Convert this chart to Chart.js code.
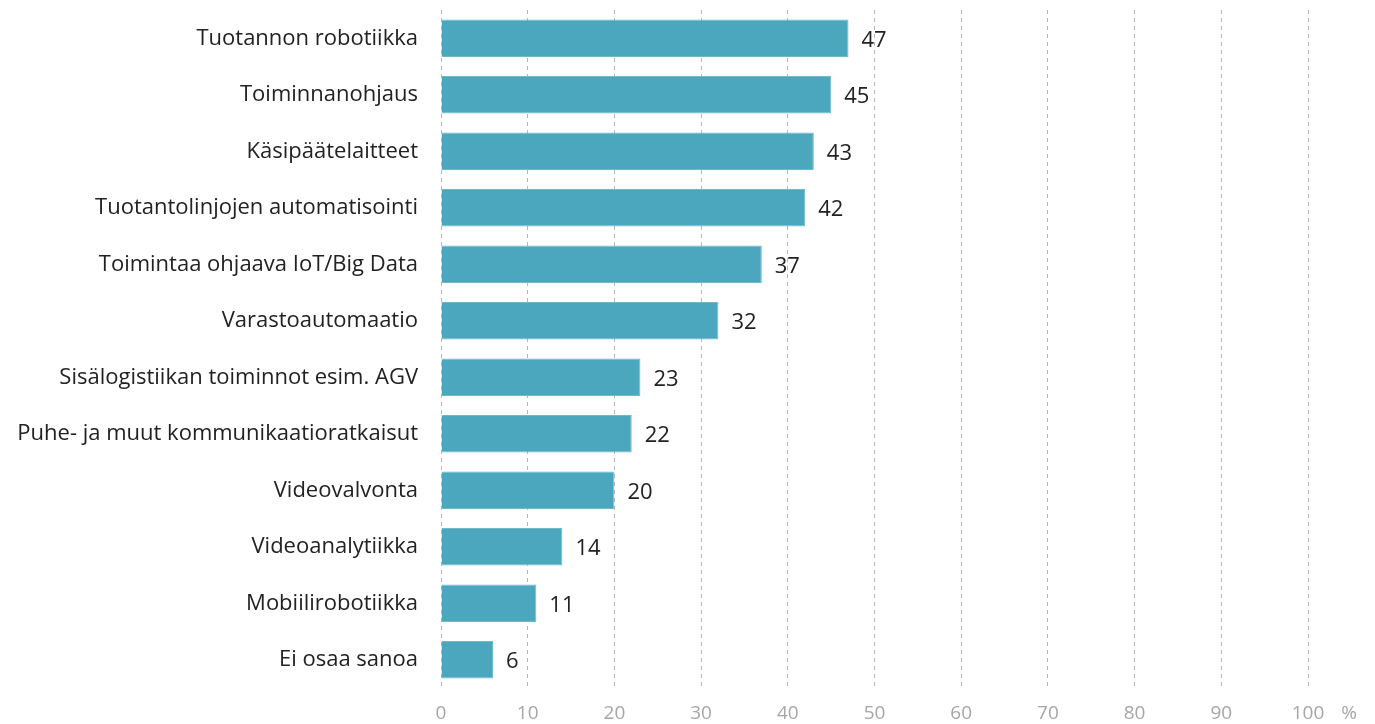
<!DOCTYPE html>
<html>
<head>
<meta charset="utf-8">
<script src="https://cdn.jsdelivr.net/npm/chart.js@4"></script>
<style>
  html, body { margin: 0; padding: 0; background: #fff; }
  #wrap { width: 1375px; height: 724px; }
</style>
</head>
<body>
<div id="wrap"><canvas id="kaavio"></canvas></div>
<script>
const kategoriat = [
  'Tuotannon robotiikka',
  'Toiminnanohjaus',
  'Käsipäätelaitteet',
  'Tuotantolinjojen automatisointi',
  'Toimintaa ohjaava IoT/Big Data',
  'Varastoautomaatio',
  'Sisälogistiikan toiminnot esim. AGV',
  'Puhe- ja muut kommunikaatioratkaisut',
  'Videovalvonta',
  'Videoanalytiikka',
  'Mobiilirobotiikka',
  'Ei osaa sanoa'
];
const osuudet = [47, 45, 43, 42, 37, 32, 23, 22, 20, 14, 11, 6];
const xTikit = [0, 10, 20, 30, 40, 50, 60, 70, 80, 90, 100];

const fontti = "'Open Sans', 'Noto Sans', sans-serif";

const arvoPlugin = {
  id: 'arvot',
  afterDatasetsDraw(chart) {
    const c = chart.ctx;
    const meta = chart.getDatasetMeta(0);
    c.save();
    c.font = '22px ' + fontti;
    c.fillStyle = '#222';
    c.textAlign = 'left';
    c.textBaseline = 'middle';
    meta.data.forEach((bar, i) => {
      c.fillText(String(osuudet[i]), bar.x + 13, bar.y + 2);
    });
    // prosenttimerkki akselin perään
    const xs = chart.scales.x;
    c.font = '19px ' + fontti;
    c.fillStyle = '#a6a6a6';
    c.textAlign = 'center';
    c.fillText('%', xs.right + 41, xs.top + 26);
    c.restore();
  }
};

new Chart(document.getElementById('kaavio'), {
  type: 'bar',
  data: {
    labels: kategoriat,
    datasets: [{
      data: osuudet,
      backgroundColor: '#4ba7bd',
      borderColor: '#6fb9cb',
      borderWidth: 1,
      categoryPercentage: 0.66,
      barPercentage: 1
    }]
  },
  options: {
    indexAxis: 'y',
    responsive: true,
    maintainAspectRatio: false,
    animation: false,
    layout: { padding: { top: 10, right: 67, left: 0, bottom: 0 } },
    plugins: { legend: { display: false }, tooltip: { enabled: false } },
    scales: {
      x: {
        min: 0, max: 100,
        afterBuildTicks(s) { s.ticks = xTikit.map(v => ({ value: v })); },
        afterFit(s) { s.height = 36; s.paddingLeft = 0; s.paddingRight = 0; },
        grid: { color: '#b8b8b8', lineWidth: 1, drawTicks: false },
        border: { display: false, dash: [4, 4] },
        ticks: { color: '#a6a6a6', font: { family: fontti, size: 19 }, padding: 14, maxRotation: 0 }
      },
      y: {
        afterFit(s) { s.width = 441; s.paddingTop = 0; s.paddingBottom = 0; },
        border: { display: false },
        grid: { display: false, drawTicks: false },
        ticks: { color: '#222', font: { family: fontti, size: 22 }, padding: 23 }
      }
    }
  },
  plugins: [arvoPlugin]
});
</script>
</body>
</html>
